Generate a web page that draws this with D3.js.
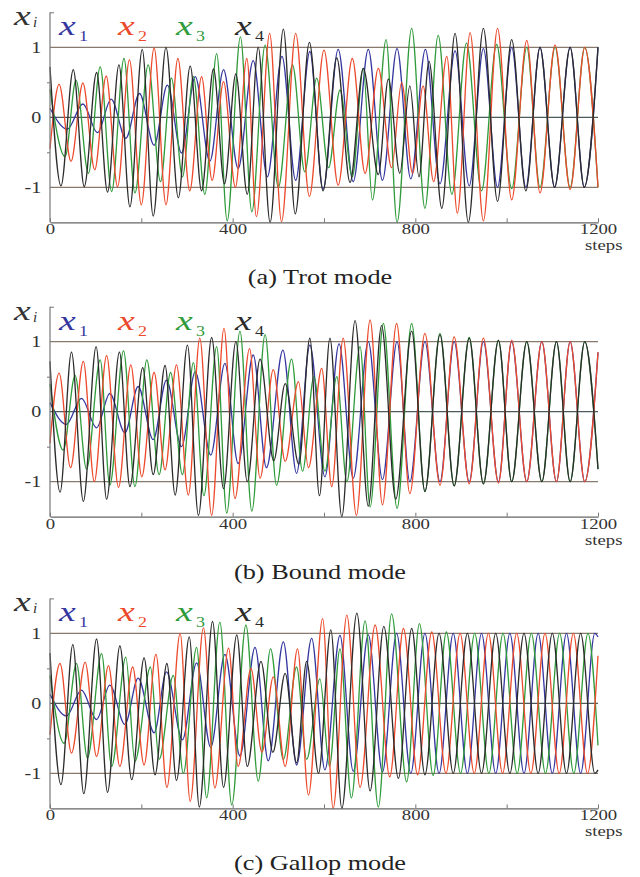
<!DOCTYPE html>
<html>
<head>
<meta charset="utf-8">
<script src="https://cdn.jsdelivr.net/npm/d3@7"></script>
<style>
    body { margin: 0; background: #fff; }
    svg text { font-family: "Liberation Serif", "Times New Roman", serif; }
</style>
</head>
<body>
<svg id="chart" width="640" height="877"></svg>
<script>
// tick values / labels
const stepTicks = [0, 200, 400, 600, 800, 1000, 1200];
const stepLabels = [0, 400, 800, 1200];
const valueLabels = [-1, 0, 1];
const valueTicks = [-0.5, 0.5, 1.5];
const seriesNames = ["1", "2", "3", "4"];
const seriesColors = ["#35379f", "#ec4a2c", "#2f9b3a", "#2b2b2b"];
const captions = ["(a) Trot mode", "(b) Bound mode", "(c) Gallop mode"];

// series as [step, value] turning points
const trotX1 = [[0,0.13],[38,-0.17],[72,0.19],[104,-0.22],[134,0.26],[166,-0.3],[196,0.34],[228,-0.4],[257,0.46],[288,-0.51],[318,0.58],[350,-0.63],[380,0.68],[412,-0.73],[445,0.81],[476,-0.85],[508,0.87],[538,-0.9],[569,0.94],[598,-1.03],[631,0.97],[664,-0.92],[697,0.97],[728,-0.9],[760,0.98],[790,-0.88],[822,0.97],[854,-0.95],[887,0.95],[918,-0.98],[949,0.98],[980,-1.0],[1011,1.0],[1042,-1.0],[1073,1.0],[1105,-1.0],[1139,1.0],[1170,-1.0],[1200,1.0]];
const trotX2 = [[0,-0.45],[20,0.47],[46,-0.63],[72,0.49],[98,-0.75],[123,0.59],[148,-0.99],[174,0.82],[200,-1.25],[228,0.99],[254,-1.25],[280,0.84],[306,-1.05],[332,0.58],[355,-0.9],[380,0.51],[406,-1.0],[431,0.84],[452,-1.42],[481,1.2],[507,-1.49],[538,1.2],[568,-1.13],[600,0.96],[631,-0.97],[662,0.84],[690,-0.8],[719,0.7],[748,-0.72],[770,0.5],[794,-0.8],[817,0.45],[840,-0.92],[869,0.87],[892,-1.37],[920,1.21],[949,-1.48],[980,1.27],[1011,-1.18],[1044,1.1],[1073,-1.08],[1106,1.03],[1139,-1.03],[1171,1.0],[1200,-1.0]];
const trotX3 = [[0,0.4],[33,-0.56],[57,0.53],[84,-0.8],[110,0.72],[135,-1.06],[162,0.84],[186,-1.08],[215,0.75],[242,-0.92],[266,0.56],[290,-0.85],[314,0.58],[339,-1.1],[365,0.91],[388,-1.48],[417,1.15],[442,-1.35],[471,1.03],[500,-1.0],[531,0.75],[558,-0.78],[584,0.56],[610,-0.72],[635,0.39],[662,-0.85],[686,0.7],[706,-1.18],[736,1.11],[760,-1.5],[792,1.27],[821,-1.3],[850,1.17],[880,-1.1],[912,1.06],[945,-1.05],[978,1.04],[1011,-1.02],[1044,1.0],[1073,-1.0],[1106,1.0],[1139,-1.0],[1171,1.0],[1200,-1.0]];
const trotX4 = [[0,0.72],[24,-0.98],[51,0.68],[75,-0.99],[102,0.64],[126,-1.07],[151,0.75],[175,-1.28],[202,0.97],[226,-1.41],[254,1.0],[281,-1.15],[307,0.73],[332,-1.05],[358,0.69],[382,-0.95],[407,0.62],[432,-1.1],[456,1.0],[482,-1.5],[511,1.26],[537,-1.38],[568,1.07],[598,-1.05],[628,0.85],[657,-0.93],[686,0.7],[719,-0.82],[741,0.55],[766,-0.8],[788,0.45],[808,-0.85],[830,0.8],[858,-1.3],[887,1.2],[916,-1.5],[949,1.27],[980,-1.2],[1011,1.11],[1042,-1.05],[1073,1.0],[1105,-1.0],[1139,1.0],[1170,-1.0],[1200,1.0]];

const boundX1 = [[0,0.13],[36,-0.18],[69,0.19],[102,-0.23],[131,0.26],[164,-0.3],[193,0.36],[226,-0.4],[255,0.45],[288,-0.5],[318,0.57],[352,-0.62],[383,0.69],[412,-0.74],[445,0.81],[474,-0.8],[510,0.88],[540,-0.88],[569,0.95],[602,-0.93],[633,0.97],[664,-0.95],[697,1.0],[728,-0.97],[760,1.0],[788,-1.0],[821,1.0],[854,-1.0],[885,1.0],[918,-1.0],[949,1.0],[982,-1.0],[1011,1.0],[1044,-1.0],[1077,1.0],[1109,-1.0],[1139,1.0],[1171,-1.0],[1200,0.85]];
const boundX2 = [[0,-0.45],[20,0.55],[45,-0.8],[73,0.72],[97,-1.0],[124,0.8],[150,-1.08],[177,0.67],[201,-0.93],[228,0.56],[252,-0.83],[277,0.67],[303,-1.19],[328,1.05],[354,-1.48],[381,1.19],[405,-1.24],[437,0.9],[460,-0.95],[489,0.6],[515,-0.71],[544,0.43],[566,-0.8],[595,0.62],[617,-1.07],[642,1.05],[671,-1.48],[701,1.31],[728,-1.33],[759,1.26],[788,-1.17],[821,1.12],[854,-1.05],[885,1.07],[918,-1.03],[949,1.05],[982,-1.02],[1011,1.02],[1044,-1.0],[1077,1.0],[1109,-1.0],[1139,1.0],[1171,-1.0],[1200,0.85]];
const boundX3 = [[0,0.4],[29,-0.55],[55,0.52],[80,-0.82],[110,0.74],[131,-1.05],[161,0.87],[186,-1.07],[212,0.74],[239,-0.9],[264,0.56],[290,-0.9],[314,0.7],[337,-1.2],[365,0.93],[387,-1.45],[416,1.15],[442,-1.42],[471,1.1],[496,-1.05],[529,0.75],[553,-0.85],[578,0.5],[602,-0.85],[628,0.5],[650,-1.0],[679,0.93],[701,-1.36],[730,1.26],[760,-1.38],[792,1.26],[821,-1.14],[854,1.12],[885,-1.06],[918,1.06],[949,-1.03],[982,1.02],[1011,-1.0],[1044,1.0],[1077,-1.0],[1109,1.0],[1139,-1.0],[1171,1.0],[1200,-0.82]];
const boundX4 = [[0,0.72],[22,-1.15],[47,0.85],[73,-1.28],[101,0.93],[124,-1.25],[152,0.85],[175,-1.07],[203,0.63],[226,-0.9],[252,0.66],[274,-1.19],[301,0.95],[325,-1.48],[354,1.06],[380,-1.1],[407,1.0],[432,-1.0],[460,0.75],[490,-0.7],[515,0.4],[545,-0.75],[569,1.05],[590,-1.2],[613,1.05],[639,-1.5],[668,1.3],[697,-1.35],[726,1.23],[757,-1.25],[792,1.15],[821,-1.14],[854,1.1],[885,-1.06],[918,1.05],[949,-1.03],[982,1.02],[1011,-1.0],[1044,1.0],[1077,-1.0],[1109,1.0],[1139,-1.0],[1171,1.0],[1200,-0.82]];

const gallopX1 = [[0,0.13],[36,-0.18],[69,0.19],[102,-0.23],[131,0.26],[164,-0.3],[193,0.36],[228,-0.42],[255,0.45],[290,-0.52],[321,0.58],[352,-0.63],[383,0.7],[416,-0.75],[449,0.8],[478,-0.82],[511,0.88],[540,-0.88],[573,0.93],[602,-0.95],[635,0.97],[664,-0.97],[697,0.98],[728,-0.98],[759,1.0],[790,-1.0],[821,1.0],[852,-1.0],[883,1.0],[914,-1.0],[945,1.0],[976,-1.0],[1007,1.0],[1038,-1.0],[1069,1.0],[1100,-1.0],[1131,1.0],[1162,-1.0],[1193,1.0],[1200,0.95]];
const gallopX2 = [[0,-0.45],[22,0.57],[47,-0.71],[77,0.59],[102,-0.76],[128,0.54],[153,-0.9],[181,0.52],[206,-0.88],[232,0.7],[256,-1.2],[285,1.0],[307,-1.4],[336,1.08],[361,-1.21],[391,0.79],[412,-0.9],[440,0.5],[464,-0.7],[489,0.38],[515,-0.9],[542,0.78],[566,-1.31],[597,1.21],[620,-1.5],[650,1.26],[679,-1.2],[712,1.12],[744,-1.05],[774,1.07],[805,-1.02],[836,1.02],[867,-1.0],[898,1.0],[929,-1.0],[960,1.0],[991,-1.0],[1022,1.0],[1053,-1.0],[1084,1.0],[1115,-1.0],[1146,1.0],[1177,-1.0],[1200,0.68]];
const gallopX3 = [[0,0.4],[31,-0.57],[58,0.57],[82,-0.78],[113,0.71],[135,-0.9],[166,0.66],[186,-0.83],[220,0.52],[239,-0.8],[270,0.4],[292,-1.0],[321,0.8],[343,-1.35],[372,1.16],[398,-1.45],[429,1.12],[456,-1.11],[483,0.78],[511,-0.8],[540,0.52],[562,-0.8],[591,0.35],[612,-0.9],[635,0.78],[660,-1.35],[690,1.18],[719,-1.48],[748,1.28],[781,-1.12],[809,1.14],[839,-1.03],[868,1.02],[899,-1.0],[930,1.0],[961,-1.0],[992,1.0],[1023,-1.0],[1054,1.0],[1085,-1.0],[1116,1.0],[1147,-1.0],[1178,1.0],[1200,-0.6]];
const gallopX4 = [[0,0.72],[24,-1.16],[50,0.84],[74,-1.29],[102,0.92],[126,-1.27],[153,0.82],[179,-1.09],[206,0.65],[230,-1.02],[256,0.57],[277,-1.1],[305,0.95],[327,-1.48],[356,1.17],[380,-1.2],[409,0.98],[432,-0.9],[462,0.6],[488,-0.7],[515,0.43],[540,-0.85],[562,0.6],[588,-1.0],[615,1.05],[639,-1.5],[672,1.29],[701,-1.25],[731,1.1],[763,-1.07],[792,1.07],[821,-1.02],[852,1.0],[883,-1.0],[914,1.0],[945,-1.0],[976,1.0],[1007,-1.0],[1038,1.0],[1069,-1.0],[1100,1.0],[1131,-1.0],[1162,1.0],[1193,-1.0],[1200,-0.95]];

let svg = d3.select("svg#chart");
let stretch = 1.25;   // the scanned figure is wider than it is tall
let unit = 70;        // pixels for one unit of x_i

let panels = [
    { caption: captions[0], zero: 117.3, series: [trotX1, trotX2, trotX3, trotX4] },
    { caption: captions[1], zero: 411.7, series: [boundX1, boundX2, boundX3, boundX4] },
    { caption: captions[2], zero: 703.4, series: [gallopX1, gallopX2, gallopX3, gallopX4] }
];
let drawOrder = [0, 2, 1, 3];
let legendX = [59, 118, 176, 235];

let xScale = d3.scaleLinear().domain([0, 1200]).range([50, 598]);

panels.forEach(function (panel) {
    let yScale = d3.scaleLinear().domain([-1.5, 1.5])
        .range([panel.zero + 1.5 * unit, panel.zero - 1.5 * unit]);
    let g = svg.append("g");

    // reference lines at -1, 0, 1
    g.selectAll("line.ref").data(valueLabels).enter().append("line")
        .attr("class", "ref")
        .attr("x1", xScale(0)).attr("x2", xScale(1200))
        .attr("y1", d => yScale(d)).attr("y2", d => yScale(d))
        .attr("stroke", d => d === 0 ? "#4d5a5a" : "#87796b")
        .attr("stroke-width", 1.2);

    // the four oscillator outputs
    let path = d3.line().x(d => xScale(d[0])).y(d => yScale(d[1])).curve(d3.curveMonotoneX);
    drawOrder.forEach(function (i) {
        g.append("path").datum(panel.series[i])
            .attr("d", path)
            .attr("fill", "none")
            .attr("stroke", seriesColors[i])
            .attr("stroke-width", 1.3);
    });

    // y axis: labels, small ticks
    let yAxis = d3.axisLeft(yScale).tickValues(valueLabels).tickSize(0).tickPadding(7)
        .tickFormat(d => String(d));
    let yTickAxis = d3.axisLeft(yScale).tickValues(valueTicks).tickSize(3).tickFormat("");
    let tg = g.append("g").attr("transform", "translate(" + xScale(0) + ",0)").call(yTickAxis);
    tg.select("path.domain").remove();
    tg.selectAll("line").attr("stroke", "#777");
    tg.selectAll(".tick").filter(d => d === 1.5).select("line").attr("x2", 4);
    let yg = g.append("g").attr("transform", "translate(" + xScale(0) + ",0)").call(yAxis);
    yg.select("path.domain").remove();
    yg.selectAll("text").style("font-size", "16px").style("fill", "#333")
        .attr("transform", "scale(" + stretch + ",1)");
    g.append("line")
        .attr("x1", xScale(0)).attr("x2", xScale(0))
        .attr("y1", yScale(1.5)).attr("y2", yScale(-1.5))
        .attr("stroke", "#777").attr("stroke-width", 1.2);

    // x axis
    let xAxis = d3.axisBottom(xScale).tickValues(stepTicks).tickSizeInner(-4).tickSizeOuter(0)
        .tickFormat(d => stepLabels.includes(d) ? d : "");
    let xg = g.append("g").attr("transform", "translate(0," + yScale(-1.5) + ")").call(xAxis);
    xg.select("path.domain").attr("stroke", "#666").attr("stroke-width", 1.2);
    xg.selectAll(".tick line").attr("stroke", "#777");
    xg.selectAll("text").style("font-size", "15px").style("fill", "#333")
        .attr("y", 12).attr("dy", 0)
        .attr("transform", "scale(" + stretch + ",1)");
    g.append("text")
        .attr("transform", "translate(585," + (yScale(-1.5) + 28) + ") scale(" + stretch + ",1)")
        .style("font-size", "15px").style("fill", "#333").text("steps");

    // x_i label and legend
    let top = yScale(1);
    g.append("text")
        .attr("transform", "translate(14," + (top - 22) + ") scale(1.4,1)")
        .style("font-size", "27px").style("font-style", "italic").style("fill", "#333").text("x");
    g.append("text")
        .attr("transform", "translate(33," + (top - 20) + ")")
        .style("font-size", "15px").style("font-style", "italic").style("fill", "#333").text("i");
    seriesNames.forEach(function (name, i) {
        g.append("text")
            .attr("transform", "translate(" + legendX[i] + "," + (top - 12) + ") scale(1.4,1)")
            .style("font-size", "27px").style("font-style", "italic")
            .style("fill", seriesColors[i]).text("x");
        g.append("text")
            .attr("transform", "translate(" + (legendX[i] + 20) + "," + (top - 6) + ") scale(1.2,1)")
            .style("font-size", "15px").style("fill", seriesColors[i]).text(name);
    });

    // caption
    g.append("text")
        .attr("transform", "translate(320," + (panel.zero + 167) + ") scale(" + stretch + ",1)")
        .style("font-size", "21px").style("text-anchor", "middle").style("fill", "#222")
        .text(panel.caption);
});
</script>
</body>
</html>
